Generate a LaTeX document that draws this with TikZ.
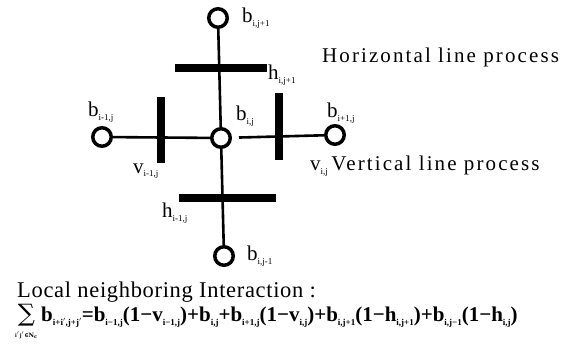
\documentclass[tikz,border=0pt]{standalone}
\usepackage{fontspec}
\setmainfont{Liberation Serif}
\newfontfamily\symfont{DejaVu Serif}
\usetikzlibrary{positioning}
\newcommand{\idx}[1]{\raisebox{-0.35ex}{\fontsize{9}{9}\selectfont #1}}
\tikzset{
  site/.style={circle, draw, line width=3.5pt, minimum size=18.5pt,
    inner sep=0pt, fill=white},
  hbar/.style={rectangle, fill=black, minimum width=92pt,
    minimum height=8pt, inner sep=0pt},
  vbar/.style={rectangle, fill=black, minimum width=8pt,
    minimum height=66pt, inner sep=0pt},
  lbl/.style={inner sep=0pt, anchor=west, font=\fontsize{21}{21}\selectfont},
  note/.style={lbl, font=\fontsize{21}{21}\selectfont\addfontfeature{LetterSpace=10}},
  link/.style={line width=2.6pt},
}

\begin{document}
\begin{tikzpicture}[x=1pt, y=-1pt]
  \useasboundingbox (0,0) rectangle (562,355);
    % lattice sites
    \node (bc) [site] at (221,138) {};
    \node (bt) [site] at (218,18) {};
    \node (bl) [site] at (102,137) {};
    \node (br) [site] at (335,135) {};
    \node (bb) [site] at (224,256) {};

    \draw [link] (bt) -- (bc);
    \draw [link] (bl) -- (bc);
    \draw [link, shorten <=7pt] (bc) -- (br);
    \draw [link] (bc) -- (bb);

    % line processes
    \node (hup) [hbar] at (221,68) {};
    \node (hdown) [hbar, minimum width=97pt] at (227,198) {};
    \node (vleft) [vbar] at (161,130) {};
    \node (vright) [vbar, minimum height=67pt] at (279,127) {};

    % labels
    \node (lbt) [lbl, right=13pt of bt.east, anchor=west] {b\idx{i,j+1}};
    \node (lhup) [lbl] at (268,75) {h\idx{i,j+1}};
    \node (lhorz) [note] at (322,57) {Horizontal line process};
    \node (lbl) [lbl] at (88,112) {b\idx{i-1,j}};
    \node (lbc) [lbl] at (236,116) {b\idx{i,j}};
    \node (lbr) [lbl] at (327,113) {b\idx{i+1,j}};
    \node (lvleft) [lbl] at (133,171) {v\idx{i-1,j}};
    \node (lvright) [lbl] at (310,166) {v\idx{i,j}\,{\fontsize{21}{21}\selectfont\addfontfeature{LetterSpace=10}Vertical line process}};
    \node (lhdown) [lbl] at (162,213) {h\idx{i-1,j}};
    \node (lbb) [lbl, right=12pt of bb.east, anchor=west] {b\idx{i,j-1}};

    \node (title) [lbl, font=\fontsize{22.5}{22.5}\selectfont\addfontfeature{LetterSpace=3}] at (17,292) {Local neighboring Interaction :};
    \node (sum) [lbl, font=\fontsize{21}{21}\selectfont\bfseries] at (15,322)
      {$\mathop{\mbox{\symfont\mdseries\fontsize{24}{24}\selectfont ∑}}\limits_{\raisebox{-5pt}{\fontsize{6}{6}\selectfont i$'$j$'$\symfont∈N\textsubscript{c}}}$\,b\idx{i+i$'$,j+j$'$}=b\idx{i−1,j}(1−v\idx{i−1,j})+b\idx{i,j}+b\idx{i+1,j}(1−v\idx{i,j})+b\idx{i,j+1}(1−h\idx{i,j+1})+b\idx{i,j−1}(1−h\idx{i,j})};
  \end{tikzpicture}
\end{document}
